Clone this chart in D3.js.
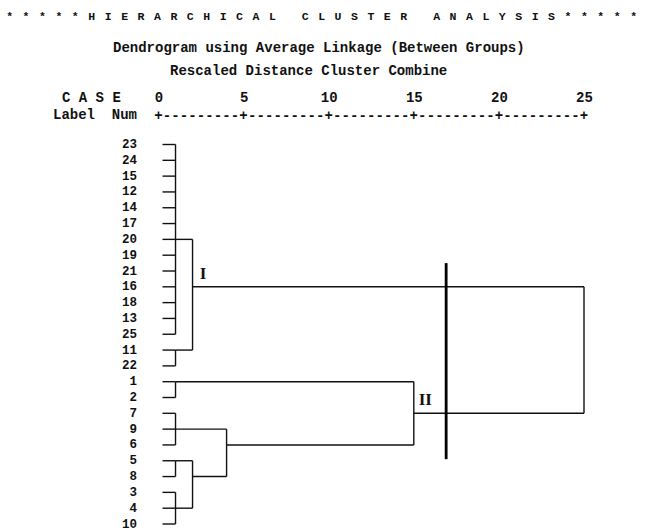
<!DOCTYPE html>
<html>
<head>
<meta charset="utf-8">
<script src="https://cdn.jsdelivr.net/npm/d3@7"></script>
<style>
  body { margin: 0; background: #fff; }
  text { fill: #111; }
</style>
</head>
<body>
<svg id="chart"></svg>
<script>
// leaf order, top to bottom
const leafLabels = ["23","24","15","12","14","17","20","19","21","16","18","13","25","11","22","1","2","7","9","6","5","8","3","4","10"];

// merges in the order they happen: id, members, rescaled distance
const mergeIds = ["A","B","C","D","E","F","G","I","H","II","ALL"];
const mergeChildren = [
  ["23","24","15","12","14","17","20","19","21","16","18","13","25"],
  ["11","22"],
  ["1","2"],
  ["7","9","6"],
  ["5","8"],
  ["3","4","10"],
  ["E","F"],
  ["A","B"],
  ["D","G"],
  ["C","H"],
  ["I","II"]
];
const mergeHeights = [1, 1, 1, 1, 1, 1, 2, 2, 4, 15, 25];

const axisTicks = [0, 5, 10, 15, 20, 25];
const groupLabels = ["I", "II"];
const cutDistance = 16.9;
const cutRows = [7.5, 19.9];

const titleText = "*****HIERARCHICAL CLUSTER ANALYSIS*****";
const subtitles = ["Dendrogram using Average Linkage (Between Groups)", "Rescaled Distance Cluster Combine"];

const width = 651, height = 532;
const mono = "'Liberation Mono', 'DejaVu Sans Mono', monospace";

const svg = d3.select("#chart").attr("width", width).attr("height", height);

const x = d3.scaleLinear().domain([0, 25]).range([158.5, 584]);
const y = d3.scaleLinear().domain([0, leafLabels.length - 1]).range([144.5, 524]);
const charW = (x(5) - x(0)) / 10;

// headings
svg.append("text").attr("x", 6.2).attr("y", 20)
  .attr("font-family", mono).attr("font-size", 11.5).attr("font-weight", "bold")
  .attr("letter-spacing", 16.42 - 6.9)
  .attr("xml:space", "preserve")
  .text(titleText);

svg.selectAll(".sub").data(subtitles).join("text").attr("class", "sub")
  .attr("x", (d, i) => i === 0 ? 113 : 170)
  .attr("y", (d, i) => 51.5 + i * 23)
  .attr("font-family", mono).attr("font-size", 14).attr("font-weight", "bold")
  .text(d => d);

svg.append("text").attr("x", 62).attr("y", 102)
  .attr("font-family", mono).attr("font-size", 14).attr("font-weight", "bold")
  .attr("xml:space", "preserve").text("C A S E");
svg.append("text").attr("x", 53).attr("y", 118.5)
  .attr("font-family", mono).attr("font-size", 14).attr("font-weight", "bold")
  .attr("xml:space", "preserve").text("Label  Num");

// distance axis
const axisG = svg.append("g").attr("transform", "translate(0,102)")
  .call(d3.axisTop(x).tickValues(axisTicks).tickSize(0).tickPadding(0));
axisG.select(".domain").remove();
axisG.selectAll("text").attr("font-family", mono).attr("font-size", 14)
  .attr("font-weight", "bold").attr("fill", "#111");

svg.append("text")
  .attr("x", x(0) - charW / 2).attr("y", 119.5)
  .attr("font-family", mono).attr("font-size", 14).attr("font-weight", "bold")
  .attr("textLength", x(25) - x(0) + charW).attr("lengthAdjust", "spacing")
  .text(axisTicks.map(() => "+").join("---------"));

// row labels
svg.selectAll(".leaf").data(leafLabels).join("text").attr("class", "leaf")
  .attr("x", 137).attr("y", (d, i) => y(i) + 3.5)
  .attr("text-anchor", "end")
  .attr("font-family", mono).attr("font-size", 12.5).attr("font-weight", "bold")
  .text(d => d);

// dendrogram
const rowOf = new Map(), hOf = new Map();
leafLabels.forEach((l, i) => { rowOf.set(l, i); hOf.set(l, null); });

const links = svg.append("g").attr("fill", "none").attr("stroke", "#111").attr("stroke-width", 1.4);
const stubX = x(0) + 4;

mergeIds.forEach((id, k) => {
  const kids = mergeChildren[k];
  const h = mergeHeights[k];
  const rows = kids.map(c => rowOf.get(c));
  links.append("line")
    .attr("x1", x(h)).attr("x2", x(h))
    .attr("y1", y(d3.min(rows))).attr("y2", y(d3.max(rows)));
  kids.forEach(c => {
    const ch = hOf.get(c);
    links.append("line")
      .attr("x1", ch === null ? stubX : x(ch)).attr("x2", x(h))
      .attr("y1", y(rowOf.get(c))).attr("y2", y(rowOf.get(c)));
  });
  rowOf.set(id, Math.floor((rows[0] + rows[rows.length - 1]) / 2));
  hOf.set(id, h);
});

// cut line
svg.append("line")
  .attr("x1", x(cutDistance)).attr("x2", x(cutDistance))
  .attr("y1", y(cutRows[0])).attr("y2", y(cutRows[1]))
  .attr("stroke", "#000").attr("stroke-width", 2.8);

// group labels
svg.selectAll(".grp").data(groupLabels).join("text").attr("class", "grp")
  .attr("x", d => x(hOf.get(d)) + (d === "I" ? 10.5 : 11.5))
  .attr("y", d => y(rowOf.get(d)) - 14)
  .attr("dy", "0.35em")
  .attr("text-anchor", "middle")
  .attr("font-family", "'Liberation Serif', 'DejaVu Serif', serif")
  .attr("font-size", 17).attr("font-weight", "bold")
  .text(d => d);
</script>
</body>
</html>
